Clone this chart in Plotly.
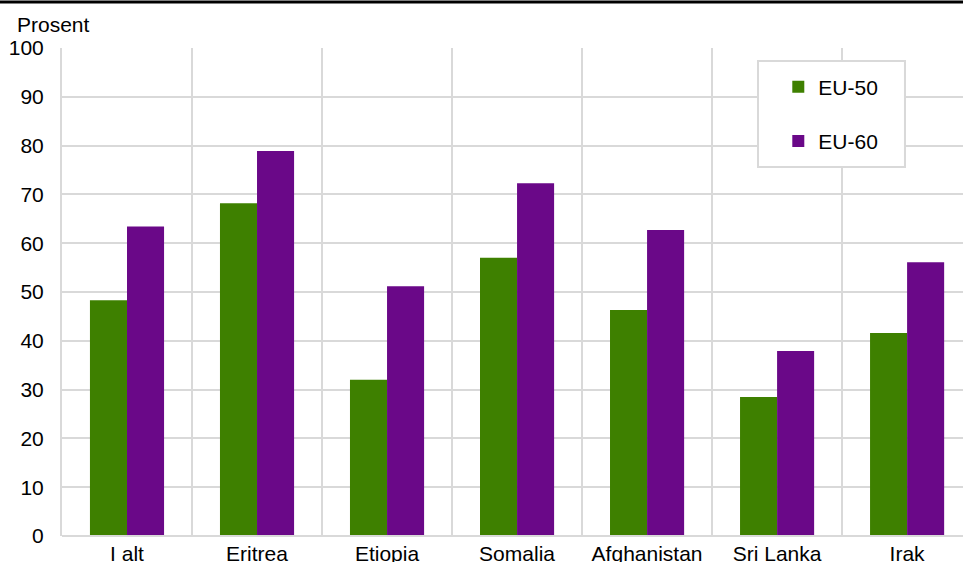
import plotly.graph_objects as go

# Andel sysselsatte, prosent
categories = ['I alt', 'Eritrea', 'Etiopia', 'Somalia', 'Afghanistan', 'Sri Lanka', 'Irak']
eu50 = [48.3, 68.2, 32.0, 57.0, 46.3, 28.5, 41.6]
eu60 = [63.4, 78.9, 51.2, 72.3, 62.7, 37.9, 56.1]
y_ticks = [0, 10, 20, 30, 40, 50, 60, 70, 80, 90, 100]

grid = '#d9d9d9'
font = dict(family='Liberation Sans, Arial, sans-serif', size=21, color='black')

fig = go.Figure()
fig.add_trace(go.Bar(x=categories, y=eu50, name='EU-50', legendgroup='a',
                     marker=dict(color='#3e8000', line=dict(width=0))))
fig.add_trace(go.Bar(x=categories, y=eu60, name='EU-60', legendgroup='b',
                     marker=dict(color='#6a0888', line=dict(width=0))))

fig.update_layout(
    width=963, height=562,
    margin=dict(l=62, r=0, t=48, b=26),
    paper_bgcolor='white', plot_bgcolor='white',
    font=font,
    barmode='group', bargap=0.43, bargroupgap=0,
    showlegend=True,
    legend=dict(x=0.795, y=0.962, xanchor='left', yanchor='top',
                bgcolor='rgba(0,0,0,0)', borderwidth=0,
                tracegroupgap=24, itemwidth=30, font=font),
    xaxis=dict(type='category', range=[-0.5, 6.43], tickson='boundaries',
               showgrid=True, gridcolor=grid, gridwidth=2, automargin=False,
               showline=False, zeroline=False, ticks='', ticklabelstandoff=3),
    yaxis=dict(range=[0, 100], tickvals=y_ticks, showgrid=True, gridcolor=grid, gridwidth=2,
               showline=True, linecolor=grid, linewidth=2, zeroline=False, automargin=False,
               ticks='', ticklabelstandoff=12),
    shapes=[
        # legend box
        dict(type='rect', xref='paper', yref='paper', x0=0.7725, x1=0.9356, y0=0.7561, y1=0.9734,
             fillcolor='white', line=dict(color=grid, width=2), layer='above'),
        # bottom axis line
        dict(type='line', xref='paper', yref='paper', x0=0, x1=1, y0=0, y1=0,
             line=dict(color=grid, width=2)),
        # black rule at the top
        dict(type='line', xref='paper', yref='paper', x0=-0.08, x1=1.0, y0=1.0942, y1=1.0942,
             line=dict(color='black', width=3)),
    ],
    annotations=[
        dict(text='Prosent', xref='paper', yref='paper', x=-0.052, y=1.049,
             xanchor='left', yanchor='middle', showarrow=False, font=font),
    ],
)

fig.write_html("out.html", config={'displayModeBar': False},
               post_script="document.body.style.margin='0';")
